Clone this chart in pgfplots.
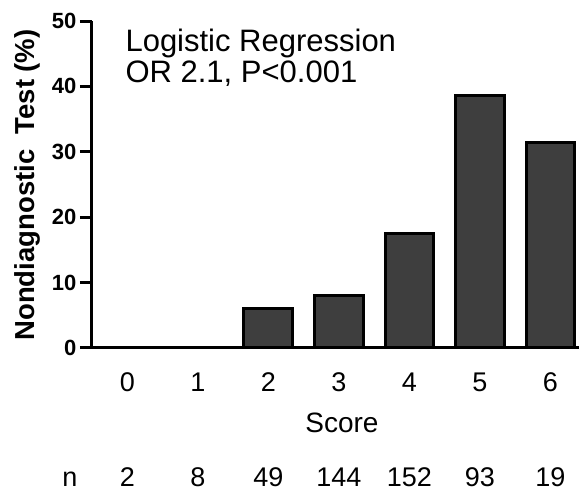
\documentclass[border=0pt]{standalone}
\usepackage{fontspec}
\setmainfont{Liberation Sans}
\newfontfamily\ylabfont{Liberation Sans}
\usepackage{pgfplots}
\pgfplotsset{compat=1.18}
\definecolor{barfill}{RGB}{62,62,62}
\begin{document}
\begin{tikzpicture}
\path[use as bounding box] (-92pt,-147pt) rectangle (487pt,348pt);
\begin{axis}[
  at={(0,0)}, anchor=south west,
  scale only axis, width=488pt, height=327pt,
  xmin=-0.5, xmax=6.42, ymin=0, ymax=50,
  axis x line=bottom, axis y line=left,
  axis line style={line width=3pt, -},
  ytick={0,10,...,50}, xtick={0,...,6},
  tick align=outside,
  x tick style={draw=none},
  y tick style={line width=3pt, black},
  major tick length=12pt,
  /pgf/number format/assume math mode=true,
  yticklabel style={font=\fontsize{22}{22}\selectfont\bfseries, xshift=0pt},
  xticklabel style={font=\fontsize{27}{27}\selectfont, anchor=base, yshift=-32pt},
  ybar, bar width=48.6pt,
  clip=false,
]
\addplot[ybar, fill=barfill, draw=black, line width=3pt] coordinates {(0,0) (1,0) (2,6.0) (3,8.1) (4,17.5) (5,38.6) (6,31.4)};
\foreach \k/\n in {0/2,1/8,2/49,3/144,4/152,5/93,6/19}{
  \edef\tmp{\noexpand\node[anchor=base, font=\noexpand\fontsize{27}{27}\noexpand\selectfont, yshift=-139pt] at (axis cs:\k,0) {\n};}\tmp
}
\end{axis}
\node[anchor=base west, font=\fontsize{31}{31}\selectfont] at (30pt,296pt) {Logistic Regression};
\node[anchor=base west, font=\fontsize{31}{31}\selectfont] at (30pt,265pt) {OR 2.1, P<0.001};
\node[anchor=base, font=\fontsize{28}{28}\selectfont] at (250pt,-85pt) {Score};
\node[anchor=base, font=\fontsize{27}{27}\selectfont] at (-22pt,-139pt) {n};
\node[rotate=90, anchor=base, font=\ylabfont\fontsize{27.5}{27.5}\selectfont\bfseries] at (-57pt,163pt) {Nondiagnostic\ \ Test (\%)};
\end{tikzpicture}
\end{document}
